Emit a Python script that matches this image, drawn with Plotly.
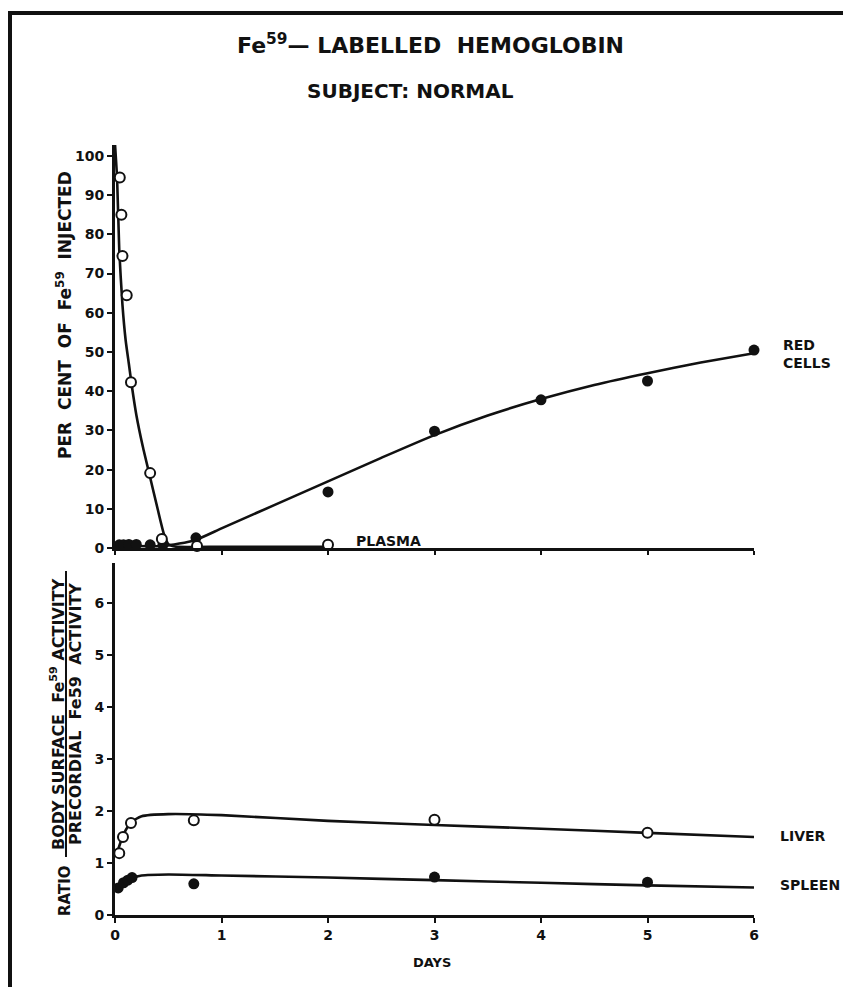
import plotly.graph_objects as go

# ---------------- data ----------------
# Top panel: per cent of Fe59 injected
plasma_days = [0.045, 0.06, 0.07, 0.11, 0.15, 0.33, 0.44, 0.77, 2.0]
plasma_pct = [94.5, 85.0, 74.5, 64.5, 42.3, 19.1, 2.3, 0.5, 0.8]

redcell_days = [0.04, 0.08, 0.13, 0.2, 0.33, 0.45, 0.76, 2.0, 3.0, 4.0, 5.0, 6.0]
redcell_pct = [0.8, 0.8, 0.9, 0.9, 0.8, 0.8, 2.6, 14.3, 29.8, 37.8, 42.6, 50.5]

plasma_fit_days = [0.0, 0.02, 0.04, 0.07, 0.1, 0.13, 0.16, 0.2, 0.26, 0.33, 0.4, 0.46, 0.5, 0.56, 1.0, 2.0]
plasma_fit_pct = [103, 94, 76, 62, 53, 47, 41, 34, 26, 18, 10, 3.5, 1.0, 0.4, 0.3, 0.3]

redcell_fit_days = [0.0, 0.45, 0.75, 1.0, 1.5, 2.0, 2.5, 3.0, 3.5, 4.0, 4.5, 5.0, 5.5, 6.0]
redcell_fit_pct = [0.7, 0.5, 2.0, 5.0, 11.0, 17.0, 23.0, 28.8, 33.8, 38.0, 41.6, 44.6, 47.3, 49.7]

# Bottom panel: ratio body surface / precordial activity
liver_days = [0.04, 0.075, 0.15, 0.74, 3.0, 5.0]
liver_ratio = [1.19, 1.5, 1.77, 1.82, 1.83, 1.58]
spleen_days = [0.03, 0.08, 0.12, 0.16, 0.74, 3.0, 5.0]
spleen_ratio = [0.52, 0.62, 0.67, 0.72, 0.6, 0.73, 0.63]

liver_fit_days = [0.02, 0.08, 0.15, 0.25, 0.5, 1.0, 2.0, 3.0, 4.0, 5.0, 6.0]
liver_fit_ratio = [1.2, 1.55, 1.78, 1.9, 1.94, 1.92, 1.81, 1.73, 1.66, 1.58, 1.5]
spleen_fit_days = [0.02, 0.08, 0.15, 0.25, 0.5, 1.0, 2.0, 3.0, 4.0, 5.0, 6.0]
spleen_fit_ratio = [0.45, 0.6, 0.7, 0.76, 0.78, 0.76, 0.72, 0.67, 0.62, 0.57, 0.53]

top_yticks = [0, 10, 20, 30, 40, 50, 60, 70, 80, 90, 100]
bottom_yticks = [0, 1, 2, 3, 4, 5, 6]
day_ticks = [0, 1, 2, 3, 4, 5, 6]

# ---------------- figure ----------------
FONT = "DejaVu Sans"
BLACK = "#111111"


def PX(x):
    """page pixel x -> paper fraction"""
    return (x - 115) / 639


def PY(y):
    """page pixel y -> paper fraction"""
    return (915 - y) / 770


fig = go.Figure()

line_style = dict(color=BLACK, width=2.6, shape="spline", smoothing=0.6)
open_marker = dict(symbol="circle", size=10, color="white", line=dict(color=BLACK, width=2))
filled_marker = dict(symbol="circle", size=11, color=BLACK, line=dict(color=BLACK, width=0))

# top panel
fig.add_trace(go.Scatter(x=plasma_fit_days, y=plasma_fit_pct, mode="lines", line=line_style,
                         xaxis="x", yaxis="y", hoverinfo="skip"))
fig.add_trace(go.Scatter(x=redcell_fit_days, y=redcell_fit_pct, mode="lines", line=line_style,
                         xaxis="x", yaxis="y", hoverinfo="skip"))
fig.add_trace(go.Scatter(x=redcell_days, y=redcell_pct, mode="markers", marker=filled_marker,
                         xaxis="x", yaxis="y", cliponaxis=False))
fig.add_trace(go.Scatter(x=plasma_days, y=plasma_pct, mode="markers", marker=open_marker,
                         xaxis="x", yaxis="y", cliponaxis=False))

# bottom panel
fig.add_trace(go.Scatter(x=liver_fit_days, y=liver_fit_ratio, mode="lines", line=line_style,
                         xaxis="x2", yaxis="y2", hoverinfo="skip"))
fig.add_trace(go.Scatter(x=spleen_fit_days, y=spleen_fit_ratio, mode="lines", line=line_style,
                         xaxis="x2", yaxis="y2", hoverinfo="skip"))
fig.add_trace(go.Scatter(x=liver_days, y=liver_ratio, mode="markers", marker=open_marker,
                         xaxis="x2", yaxis="y2", cliponaxis=False))
fig.add_trace(go.Scatter(x=spleen_days, y=spleen_ratio, mode="markers", marker=filled_marker,
                         xaxis="x2", yaxis="y2", cliponaxis=False))

axis_common = dict(showgrid=False, zeroline=False, showline=True, linecolor=BLACK, linewidth=3,
                   ticks="outside", ticklen=5, tickwidth=2, tickcolor=BLACK,
                   tickfont=dict(family=FONT, size=14, color=BLACK, weight="bold"))

fig.update_layout(
    width=851, height=987,
    margin=dict(l=107, r=105, t=137, b=80),
    paper_bgcolor="white", plot_bgcolor="white",
    showlegend=False,
    font=dict(family=FONT, color=BLACK),
    xaxis=dict(axis_common, domain=[0, 1], range=[0, 6], anchor="y",
               tickvals=day_ticks, showticklabels=False, ticklen=4),
    yaxis=dict(axis_common, domain=[PY(548), 1.0], range=[0, 102.8], anchor="x",
               tickvals=top_yticks),
    xaxis2=dict(axis_common, domain=[0, 1], range=[0, 6], anchor="y2",
                tickvals=day_ticks),
    yaxis2=dict(axis_common, domain=[0, PY(563)], range=[0, 6.77], anchor="x2",
                tickvals=bottom_yticks),
)

ann = []
ann.append(dict(text="Fe<sup>59</sup>— LABELLED  HEMOGLOBIN", xref="paper", yref="paper",
                x=PX(430), y=PY(44), showarrow=False,
                font=dict(family=FONT, size=22, color=BLACK, weight="bold"),
                xanchor="center", yanchor="middle"))
ann.append(dict(text="SUBJECT: NORMAL", xref="paper", yref="paper",
                x=PX(410), y=PY(91), showarrow=False,
                font=dict(family=FONT, size=20, color=BLACK, weight="bold"),
                xanchor="center", yanchor="middle"))

ann.append(dict(text="PER  CENT  OF  Fe<sup>59</sup>  INJECTED", xref="paper", yref="paper",
                x=PX(64), y=PY(315), textangle=-90, showarrow=False,
                font=dict(family=FONT, size=17, color=BLACK, weight="bold"),
                xanchor="center", yanchor="middle"))
frac_font = dict(family=FONT, size=16, color=BLACK, weight="bold")
ann.append(dict(text="RATIO", xref="paper", yref="paper",
                x=PX(65), y=PY(891), textangle=-90, showarrow=False,
                font=dict(family=FONT, size=15, color=BLACK, weight="bold"),
                xanchor="center", yanchor="middle"))
ann.append(dict(text="BODY SURFACE  Fe<sup>59</sup> ACTIVITY", xref="paper", yref="paper",
                x=PX(57), y=PY(714), textangle=-90, showarrow=False, font=frac_font,
                xanchor="center", yanchor="middle"))
ann.append(dict(text="PRECORDIAL  Fe59  ACTIVITY", xref="paper", yref="paper",
                x=PX(75), y=PY(714), textangle=-90, showarrow=False, font=frac_font,
                xanchor="center", yanchor="middle"))

ann.append(dict(text="DAYS", xref="paper", yref="paper", x=PX(432), y=PY(962),
                showarrow=False, font=dict(family=FONT, size=13, color=BLACK, weight="bold"),
                xanchor="center", yanchor="middle"))

series_font = dict(family=FONT, size=14, color=BLACK, weight="bold")
ann.append(dict(text="RED<br>CELLS", xref="paper", yref="paper", x=PX(781), y=PY(354),
                showarrow=False, font=series_font, xanchor="left", yanchor="middle", align="left"))
ann.append(dict(text="PLASMA", xref="paper", yref="paper", x=PX(354), y=PY(541),
                showarrow=False, font=series_font, xanchor="left", yanchor="middle"))
ann.append(dict(text="LIVER", xref="paper", yref="paper", x=PX(778), y=PY(836),
                showarrow=False, font=series_font, xanchor="left", yanchor="middle"))
ann.append(dict(text="SPLEEN", xref="paper", yref="paper", x=PX(778), y=PY(885),
                showarrow=False, font=series_font, xanchor="left", yanchor="middle"))
fig.update_layout(annotations=ann)

# fraction bar and page border
shapes = [
    dict(type="line", xref="paper", yref="paper",
         x0=PX(66), x1=PX(66), y0=PY(857), y1=PY(571),
         line=dict(color=BLACK, width=2)),
    dict(type="line", xref="paper", yref="paper",
         x0=PX(8), x1=PX(860), y0=PY(13), y1=PY(13),
         line=dict(color=BLACK, width=4)),
    dict(type="line", xref="paper", yref="paper",
         x0=PX(10), x1=PX(10), y0=PY(11), y1=PY(1000),
         line=dict(color=BLACK, width=4)),
]
fig.update_layout(shapes=shapes)

fig.write_html("out.html")
